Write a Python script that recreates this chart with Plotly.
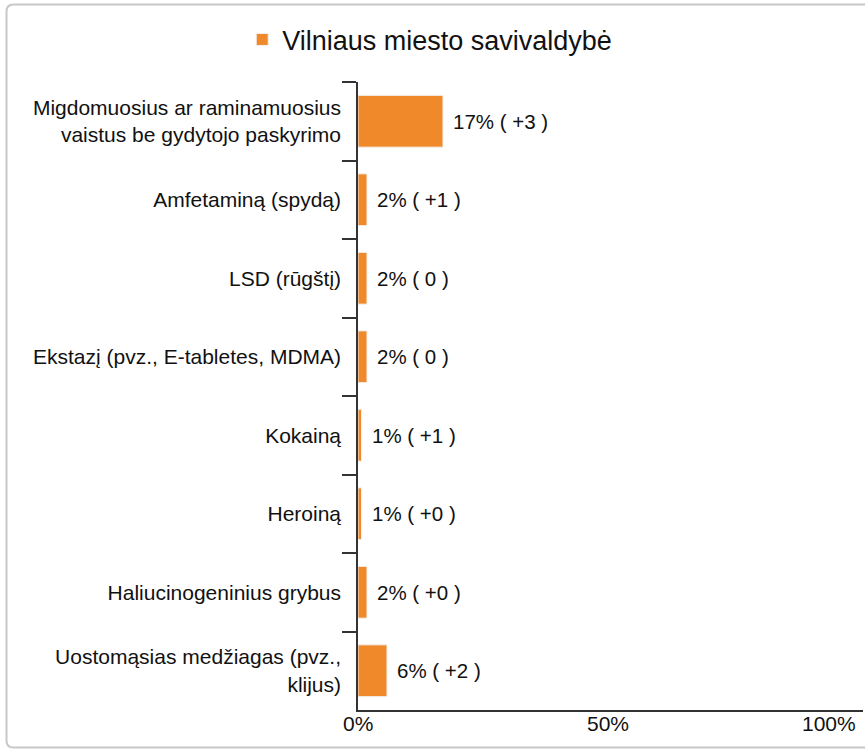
import plotly.graph_objects as go

categories = [
    "Migdomuosius ar raminamuosius<br>vaistus be gydytojo paskyrimo",
    "Amfetaminą (spydą)",
    "LSD (rūgštį)",
    "Ekstazį (pvz., E-tabletes, MDMA)",
    "Kokainą",
    "Heroiną",
    "Haliucinogeninius grybus",
    "Uostomąsias medžiagas (pvz.,<br>klijus)",
]
values = [17, 1.8, 1.8, 1.8, 0.7, 0.7, 1.8, 5.8]
value_labels = ["17% ( +3 )", "2% ( +1 )", "2% ( 0 )", "2% ( 0 )",
                "1% ( +1 )", "1% ( +0 )", "2% ( +0 )", "6% ( +2 )"]
series_name = "Vilniaus miesto savivaldybė"
x_tick_vals = [0, 50, 100]
x_tick_text = ["0%", "50%", "100%"]

W, H = 865, 749
L, R, T, B = 358, 2, 82, 39
pw, ph = W - L - R, H - T - B

FONT = "Liberation Sans, Arial, sans-serif"
ORANGE = "#F0892A"

fig = go.Figure()
fig.add_trace(go.Bar(
    x=values, y=categories, orientation="h", name=series_name,
    marker=dict(color=ORANGE, line=dict(color="#f2f2f2", width=1)),
    width=0.66, showlegend=True, hoverinfo="skip",
))

annotations = []
for c, v, t in zip(categories, values, value_labels):
    annotations.append(dict(x=v, y=c, xref="x", yref="y", text=t, showarrow=False,
                            xanchor="left", yanchor="middle", xshift=8,
                            font=dict(size=20.5, color="#111", family=FONT)))
for v, t in zip(x_tick_vals, x_tick_text):
    annotations.append(dict(x=v, y=0, xref="x", yref="paper", text=t, showarrow=False,
                            xanchor="right" if v == 100 else "center", yanchor="top",
                            yshift=0, font=dict(size=21, color="#111", family=FONT)))

def px2paper(xp, yp):
    return (xp - L) / pw, (H - B - yp) / ph

# rounded border around chart
x0, y0 = px2paper(6.5, 4.5)
x1, y1 = px2paper(875, 747.5)
rx, ry = 7 / pw, 7 / ph
path = (f"M {x0+rx},{y0} L {x1-rx},{y0} Q {x1},{y0} {x1},{y0-ry} "
        f"L {x1},{y1+ry} Q {x1},{y1} {x1-rx},{y1} L {x0+rx},{y1} "
        f"Q {x0},{y1} {x0},{y1+ry} L {x0},{y0-ry} Q {x0},{y0} {x0+rx},{y0} Z")

fig.update_layout(
    width=W, height=H,
    margin=dict(l=L, r=R, t=T, b=B, autoexpand=False),
    paper_bgcolor="white", plot_bgcolor="white",
    font=dict(family=FONT, size=21, color="#111"),
    bargap=0.34,
    legend=dict(orientation="h", x=0.142, xanchor="center", y=1.028, yanchor="bottom",
                bgcolor="rgba(0,0,0,0)",
                font=dict(size=27, color="#111", family=FONT),
                itemclick=False, itemdoubleclick=False),
    annotations=annotations,
    shapes=[dict(type="path", path=path, xref="paper", yref="paper",
                 line=dict(color="#c8c8c8", width=2), layer="below")],
    xaxis=dict(range=[0, 101], showgrid=False, zeroline=False, showline=True,
               linecolor="#333", linewidth=1.5, ticks="", showticklabels=False,
               fixedrange=True),
    yaxis=dict(categoryorder="array", categoryarray=categories, autorange="reversed",
               showgrid=False, zeroline=False, showline=True, linecolor="#333",
               linewidth=1.5, ticks="outside", tickson="boundaries", ticklen=14,
               tickwidth=1.5, tickcolor="#333", ticklabelstandoff=11,
               tickfont=dict(size=21, color="#111", family=FONT), fixedrange=True),
)

fig.write_html("out.html", config={"displayModeBar": False},
               post_script="document.body.style.margin='0';document.body.style.overflow='hidden';")
